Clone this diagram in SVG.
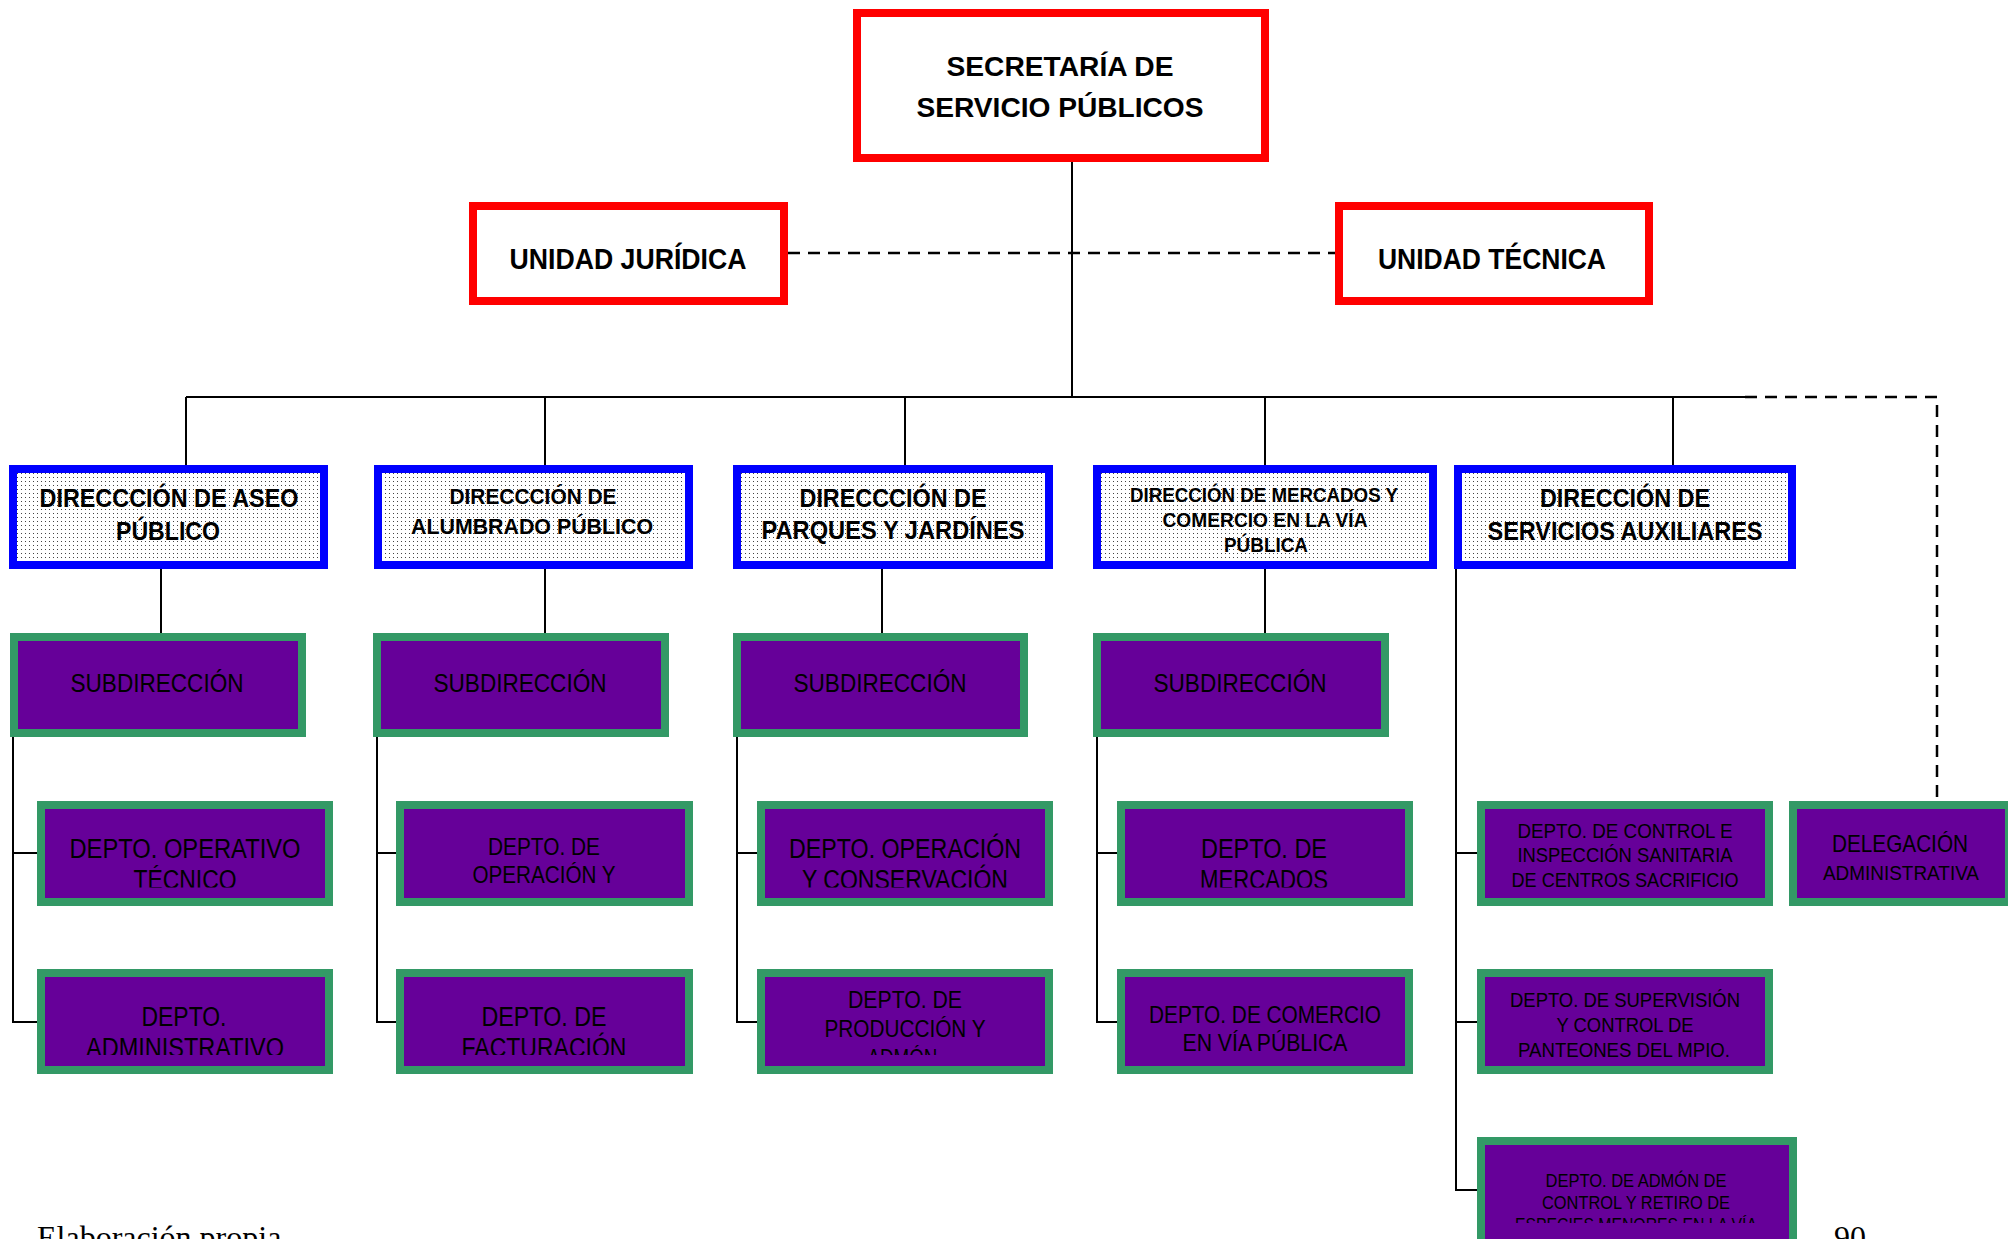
<svg xmlns="http://www.w3.org/2000/svg" width="2008" height="1239" viewBox="0 0 2008 1239">
<defs>
<pattern id="dots" width="4" height="4" patternUnits="userSpaceOnUse"><rect width="4" height="4" fill="#fff"/><rect x="1" y="1" width="1" height="1" fill="#444"/></pattern>
<clipPath id="c1"><rect x="0" y="780" width="2008" height="107.5"/></clipPath>
<clipPath id="c2"><rect x="0" y="950" width="2008" height="105"/></clipPath>
<clipPath id="c3"><rect x="0" y="1120" width="2008" height="103"/></clipPath>
</defs>
<style>
.red{fill:#fff;stroke:#ff0000;stroke-width:8}
.blue{fill:url(#dots);stroke:#0000ff;stroke-width:8}
.grn{fill:#660099;stroke:#339966;stroke-width:8}
text{font-family:"Liberation Sans Narrow","Liberation Sans",Arial,sans-serif;text-anchor:middle;fill:#000}
.b{font-weight:bold}
.ln{fill:none;stroke:#000;stroke-width:2}
.dash{fill:none;stroke:#000;stroke-width:2.5;stroke-dasharray:12 8}
.foot{font-family:"Liberation Serif","Times New Roman",serif;text-anchor:start;font-size:32px}
</style>
<rect width="2008" height="1239" fill="#fff"/>

<g id="connectors">
<path class="ln" d="M1072 162V397M186 397H1745M186 397V465M545 397V465M905 397V465M1265 397V465M1673 397V465"/>
<path class="dash" d="M788 253H1335"/>
<path class="dash" d="M1745 397H1937V801"/>
<path class="ln" d="M161 569V633M545 569V633M882 569V633M1265 569V633"/>
<path class="ln" d="M13 737V1022H37M13 853H37"/>
<path class="ln" d="M377 737V1022H396M377 853H396"/>
<path class="ln" d="M737 737V1022H757M737 853H757"/>
<path class="ln" d="M1097 737V1022H1117M1097 853H1117"/>
<path class="ln" d="M1456 569V1190H1477M1456 853H1477M1456 1022H1477"/>
</g>

<g id="secretaria">
<rect class="red" x="857" y="13" width="408" height="145"/>
<text class="b" x="1060" y="76" font-size="27" textLength="227" lengthAdjust="spacingAndGlyphs">SECRETARÍA DE</text>
<text class="b" x="1060" y="117" font-size="27" textLength="287" lengthAdjust="spacingAndGlyphs">SERVICIO PÚBLICOS</text>
</g>
<g id="unidad-juridica">
<rect class="red" x="473" y="206" width="311" height="95"/>
<text class="b" x="628" y="269" font-size="29" textLength="237" lengthAdjust="spacingAndGlyphs">UNIDAD JURÍDICA</text>
</g>
<g id="unidad-tecnica">
<rect class="red" x="1339" y="206" width="310" height="95"/>
<text class="b" x="1492" y="269" font-size="29" textLength="228" lengthAdjust="spacingAndGlyphs">UNIDAD TÉCNICA</text>
</g>

<g id="dir-aseo">
<rect class="blue" x="13" y="469" width="311" height="96"/>
<text class="b" x="169" y="507" font-size="25" textLength="259" lengthAdjust="spacingAndGlyphs">DIRECCCIÓN DE ASEO</text>
<text class="b" x="168" y="540" font-size="25" textLength="104" lengthAdjust="spacingAndGlyphs">PÚBLICO</text>
</g>
<g id="dir-alumbrado">
<rect class="blue" x="378" y="469" width="311" height="96"/>
<text class="b" x="533" y="504" font-size="22" textLength="167" lengthAdjust="spacingAndGlyphs">DIRECCCIÓN DE</text>
<text class="b" x="532" y="534" font-size="22" textLength="242" lengthAdjust="spacingAndGlyphs">ALUMBRADO PÚBLICO</text>
</g>
<g id="dir-parques">
<rect class="blue" x="737" y="469" width="312" height="96"/>
<text class="b" x="893" y="507" font-size="26" textLength="187" lengthAdjust="spacingAndGlyphs">DIRECCCIÓN DE</text>
<text class="b" x="893" y="539" font-size="26" textLength="263" lengthAdjust="spacingAndGlyphs">PARQUES Y JARDÍNES</text>
</g>
<g id="dir-mercados">
<rect class="blue" x="1097" y="469" width="336" height="96"/>
<text class="b" x="1264" y="502" font-size="21" textLength="268" lengthAdjust="spacingAndGlyphs">DIRECCIÓN DE MERCADOS Y</text>
<text class="b" x="1265" y="527" font-size="21" textLength="205" lengthAdjust="spacingAndGlyphs">COMERCIO EN LA VÍA</text>
<text class="b" x="1266" y="552" font-size="21" textLength="84" lengthAdjust="spacingAndGlyphs">PÚBLICA</text>
</g>
<g id="dir-auxiliares">
<rect class="blue" x="1458" y="469" width="334" height="96"/>
<text class="b" x="1625" y="507" font-size="25" textLength="170" lengthAdjust="spacingAndGlyphs">DIRECCIÓN DE</text>
<text class="b" x="1625" y="540" font-size="25" textLength="275" lengthAdjust="spacingAndGlyphs">SERVICIOS AUXILIARES</text>
</g>

<g id="sub-aseo">
<rect class="grn" x="14" y="637" width="288" height="96"/>
<text x="157" y="692" font-size="26" textLength="173" lengthAdjust="spacingAndGlyphs">SUBDIRECCIÓN</text>
</g>
<g id="sub-alumbrado">
<rect class="grn" x="377" y="637" width="288" height="96"/>
<text x="520" y="692" font-size="26" textLength="173" lengthAdjust="spacingAndGlyphs">SUBDIRECCIÓN</text>
</g>
<g id="sub-parques">
<rect class="grn" x="737" y="637" width="287" height="96"/>
<text x="880" y="692" font-size="26" textLength="173" lengthAdjust="spacingAndGlyphs">SUBDIRECCIÓN</text>
</g>
<g id="sub-mercados">
<rect class="grn" x="1097" y="637" width="288" height="96"/>
<text x="1240" y="692" font-size="26" textLength="173" lengthAdjust="spacingAndGlyphs">SUBDIRECCIÓN</text>
</g>

<g id="depto-operativo-tecnico">
<rect class="grn" x="41" y="805" width="288" height="97"/>
<g clip-path="url(#c1)">
<text x="185" y="858" font-size="27" textLength="231" lengthAdjust="spacingAndGlyphs">DEPTO. OPERATIVO</text>
<text x="185" y="889" font-size="27" textLength="103" lengthAdjust="spacingAndGlyphs">TÉCNICO</text>
</g>
</g>
<g id="depto-administrativo">
<rect class="grn" x="41" y="973" width="288" height="97"/>
<g clip-path="url(#c2)">
<text x="184" y="1026" font-size="27" textLength="85" lengthAdjust="spacingAndGlyphs">DEPTO.</text>
<text x="185" y="1057" font-size="27" textLength="198" lengthAdjust="spacingAndGlyphs">ADMINISTRATIVO</text>
</g>
</g>

<g id="depto-operacion-alumbrado">
<rect class="grn" x="400" y="805" width="289" height="97"/>
<g clip-path="url(#c1)">
<text x="544" y="855" font-size="24" textLength="112" lengthAdjust="spacingAndGlyphs">DEPTO. DE</text>
<text x="544" y="883" font-size="24" textLength="143" lengthAdjust="spacingAndGlyphs">OPERACIÓN Y</text>
</g>
</g>
<g id="depto-facturacion">
<rect class="grn" x="400" y="973" width="289" height="97"/>
<g clip-path="url(#c2)">
<text x="544" y="1026" font-size="27" textLength="125" lengthAdjust="spacingAndGlyphs">DEPTO. DE</text>
<text x="544" y="1057" font-size="27" textLength="165" lengthAdjust="spacingAndGlyphs">FACTURACIÓN</text>
</g>
</g>

<g id="depto-operacion-conservacion">
<rect class="grn" x="761" y="805" width="288" height="97"/>
<g clip-path="url(#c1)">
<text x="905" y="858" font-size="27" textLength="232" lengthAdjust="spacingAndGlyphs">DEPTO. OPERACIÓN</text>
<text x="905" y="889" font-size="27" textLength="206" lengthAdjust="spacingAndGlyphs">Y CONSERVACIÓN</text>
</g>
</g>
<g id="depto-produccion">
<rect class="grn" x="761" y="973" width="288" height="97"/>
<g clip-path="url(#c2)">
<text x="905" y="1008" font-size="23" textLength="114" lengthAdjust="spacingAndGlyphs">DEPTO. DE</text>
<text x="905" y="1037" font-size="23" textLength="161" lengthAdjust="spacingAndGlyphs">PRODUCCIÓN Y</text>
<text x="905" y="1066" font-size="23" textLength="75" lengthAdjust="spacingAndGlyphs">ADMÓN.</text>
</g>
</g>

<g id="depto-mercados">
<rect class="grn" x="1121" y="805" width="288" height="97"/>
<g clip-path="url(#c1)">
<text x="1264" y="858" font-size="27" textLength="126" lengthAdjust="spacingAndGlyphs">DEPTO. DE</text>
<text x="1264" y="889" font-size="27" textLength="128" lengthAdjust="spacingAndGlyphs">MERCADOS</text>
</g>
</g>
<g id="depto-comercio">
<rect class="grn" x="1121" y="973" width="288" height="97"/>
<g clip-path="url(#c2)">
<text x="1265" y="1023" font-size="23" textLength="232" lengthAdjust="spacingAndGlyphs">DEPTO. DE COMERCIO</text>
<text x="1265" y="1051" font-size="23" textLength="165" lengthAdjust="spacingAndGlyphs">EN VÍA PÚBLICA</text>
</g>
</g>

<g id="depto-control-sanitaria">
<rect class="grn" x="1481" y="805" width="288" height="97"/>
<text x="1625" y="838" font-size="21" textLength="215" lengthAdjust="spacingAndGlyphs">DEPTO. DE CONTROL E</text>
<text x="1625" y="862" font-size="21" textLength="215" lengthAdjust="spacingAndGlyphs">INSPECCIÓN SANITARIA</text>
<text x="1625" y="887" font-size="21" textLength="227" lengthAdjust="spacingAndGlyphs">DE CENTROS SACRIFICIO</text>
</g>
<g id="depto-panteones">
<rect class="grn" x="1481" y="973" width="288" height="97"/>
<text x="1625" y="1007" font-size="21" textLength="230" lengthAdjust="spacingAndGlyphs">DEPTO. DE SUPERVISIÓN</text>
<text x="1625" y="1032" font-size="21" textLength="137" lengthAdjust="spacingAndGlyphs">Y CONTROL DE</text>
<text x="1624" y="1057" font-size="21" textLength="212" lengthAdjust="spacingAndGlyphs">PANTEONES DEL MPIO.</text>
</g>
<g id="depto-especies-menores">
<rect class="grn" x="1481" y="1141" width="312" height="104"/>
<g clip-path="url(#c3)">
<text x="1636" y="1187" font-size="19" textLength="181" lengthAdjust="spacingAndGlyphs">DEPTO. DE ADMÓN DE</text>
<text x="1636" y="1209" font-size="19" textLength="188" lengthAdjust="spacingAndGlyphs">CONTROL Y RETIRO DE</text>
<text x="1636" y="1231" font-size="19" textLength="242" lengthAdjust="spacingAndGlyphs">ESPECIES MENORES EN LA VÍA</text>
</g>
</g>

<g id="delegacion-administrativa">
<rect class="grn" x="1793" y="805" width="216" height="97"/>
<text x="1900" y="852" font-size="24" textLength="136" lengthAdjust="spacingAndGlyphs">DELEGACIÓN</text>
<text x="1901" y="880" font-size="21" textLength="156" lengthAdjust="spacingAndGlyphs">ADMINISTRATIVA</text>
</g>

<text class="foot" x="37" y="1248">Elaboración propia</text>
<text class="foot" x="1834" y="1248">90</text>
</svg>
